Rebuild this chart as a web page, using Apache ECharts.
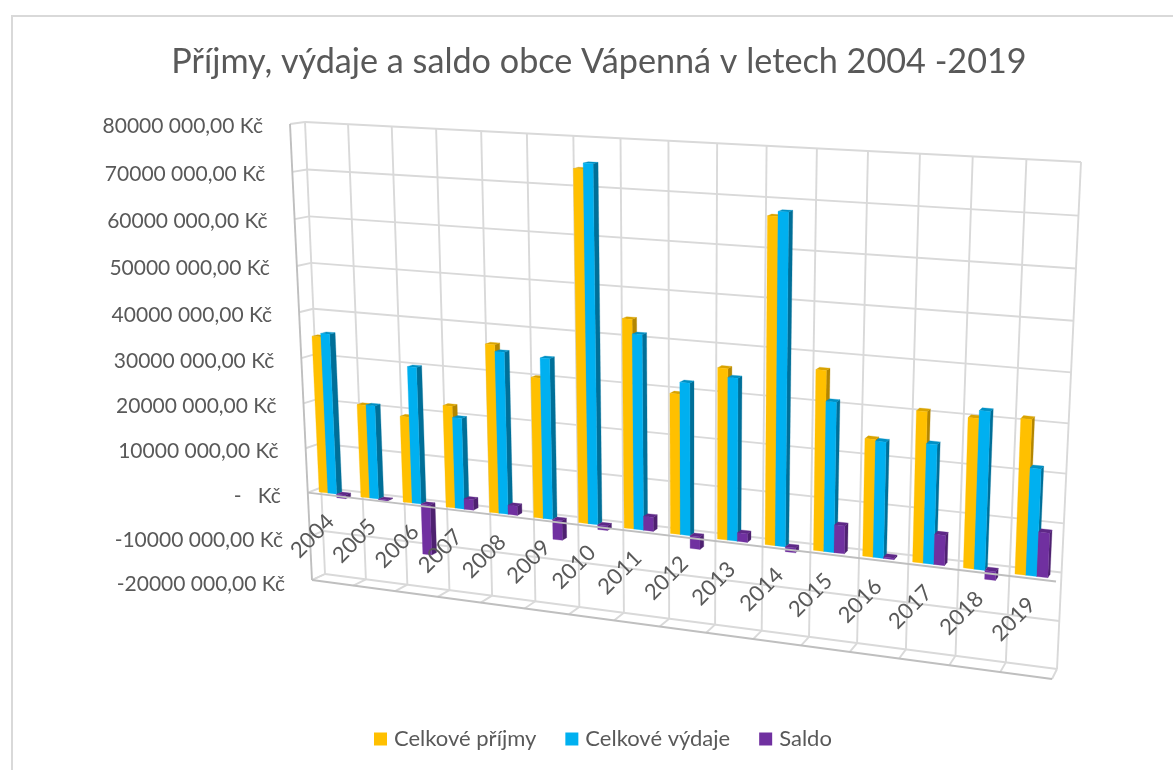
<!DOCTYPE html>
<html><head><meta charset="utf-8">
<style>html,body{margin:0;padding:0;background:#fff}#c{width:1173px;height:770px}</style>
<script src="https://cdn.jsdelivr.net/npm/echarts@6/dist/echarts.min.js"></script>
</head><body><div id="c"></div>
<script>
const categories=['2004','2005','2006','2007','2008','2009','2010','2011','2012','2013','2014','2015','2016','2017','2018','2019'];
const prijmy=[34.7e6,20.6e6,19e6,22.3e6,36.4e6,30.2e6,74e6,44.2e6,29.6e6,35.8e6,67e6,37.2e6,24.2e6,30.8e6,30.4e6,31.2e6];
const vydaje=[35.5e6,20.7e6,30e6,19.9e6,35e6,34.5e6,75.2e6,41.2e6,32.1e6,34e6,68e6,31e6,23.9e6,24.4e6,32e6,21.6e6];
const saldo=[-0.8e6,-0.2e6,-11.2e6,2.3e6,2e6,-4.3e6,-1e6,3e6,-2.7e6,1.8e6,-1e6,5.8e6,0.3e6,6.2e6,-1.8e6,9e6];
const yTicks=[-20e6,-10e6,0,10e6,20e6,30e6,40e6,50e6,60e6,70e6,80e6];
const yTickLabels=['-20000 000,00 Kč','-10000 000,00 Kč','-   Kč','10000 000,00 Kč','20000 000,00 Kč','30000 000,00 Kč','40000 000,00 Kč','50000 000,00 Kč','60000 000,00 Kč','70000 000,00 Kč','80000 000,00 Kč'];
const seriesNames=['Celkové příjmy','Celkové výdaje','Saldo'];
const seriesColors=[['#FFC000','#B38600','#D9A300'],['#00B0F0','#006F98','#0090C4'],['#7030A0','#4E2170','#5E2887']];
const titleText='Příjmy, výdaje a saldo obce Vápenná v letech 2004 -2019';
const FONT='Lato';

// perspective of the 3D box: back wall and front plane quads
const backQuad=[[305,122],[1081,162],[1057,669],[325,574]];
const frontQuad=[[290,124],[1073,167],[1052,679],[312,580]];
function homography(q){
  const [p0,p1,p2,p3]=q;
  const dx1=p1[0]-p2[0],dx2=p3[0]-p2[0],sx=p0[0]-p1[0]+p2[0]-p3[0];
  const dy1=p1[1]-p2[1],dy2=p3[1]-p2[1],sy=p0[1]-p1[1]+p2[1]-p3[1];
  const den=dx1*dy2-dx2*dy1;
  const g=(sx*dy2-dx2*sy)/den,h=(dx1*sy-sx*dy1)/den;
  const a=p1[0]-p0[0]+g*p1[0],b=p3[0]-p0[0]+h*p3[0],c=p0[0];
  const d=p1[1]-p0[1]+g*p1[1],e=p3[1]-p0[1]+h*p3[1],f=p0[1];
  return (u,v)=>{const w=1+g*u+h*v;return [(a*u+b*v+c)/w,(d*u+e*v+f)/w];};
}
const hBack=homography(backQuad),hFront=homography(frontQuad);
function proj(u,v,w){const A=hBack(u,v),B=hFront(u,v);return [A[0]+(B[0]-A[0])*w,A[1]+(B[1]-A[1])*w];}

// library scale -> unit box coordinates
function uvOf(params,api,cat,val){
  const p=api.coord([cat,val]),cs=params.coordSys;
  return [(p[0]-cs.x)/cs.width,(p[1]-cs.y)/cs.height];
}
const gridColor='#D9D9D9',edgeColor='#BFBFBF';
function seg(a,b,color,w){return {type:'line',shape:{x1:a[0],y1:a[1],x2:b[0],y2:b[1]},style:{stroke:color,lineWidth:w,fill:null}};}

const W_FRONT=0.72,W_BACK=0.32,GAP=0.185,BAR=0.21;
function barSeries(idx,values){
  return {name:seriesNames[idx],type:'custom',coordinateSystem:'cartesian2d',z:5,silent:true,clip:false,
    itemStyle:{color:seriesColors[idx][0]},
    data:values.map((v,i)=>[i,v]),encode:{x:0,y:1},
    renderItem(params,api){
      const cat=api.value(0),val=api.value(1);
      const cs=params.coordSys,band=api.size([1,0])[0]/cs.width;
      const top=uvOf(params,api,cat,Math.max(val,0)),bot=uvOf(params,api,cat,Math.min(val,0));
      const u0=top[0]-band/2+band*(GAP+BAR*idx),u1=u0+band*BAR;
      const vt=top[1],vb=bot[1];
      const c=seriesColors[idx];
      const poly=(pts,fill)=>({type:'polygon',shape:{points:pts},style:{fill,stroke:fill,lineWidth:0.3}});
      const f=[proj(u0,vt,W_FRONT),proj(u1,vt,W_FRONT),proj(u1,vb,W_FRONT),proj(u0,vb,W_FRONT)];
      const sd=[proj(u1,vt,W_FRONT),proj(u1,vt,W_BACK),proj(u1,vb,W_BACK),proj(u1,vb,W_FRONT)];
      const tp=[proj(u0,vt,W_FRONT),proj(u0,vt,W_BACK),proj(u1,vt,W_BACK),proj(u1,vt,W_FRONT)];
      return {type:'group',children:[poly(sd,c[1]),poly(tp,c[2]),poly(f,c[0])]};
    }};
}
const option={
  animation:false,backgroundColor:'#fff',
  title:{text:titleText,left:594,top:40,textAlign:'center',textStyle:{fontFamily:FONT,fontSize:34.2,fontWeight:'normal',color:'#595959'}},
  legend:{data:seriesNames,left:369,top:723,icon:'rect',itemWidth:13,itemHeight:13,itemGap:29,textStyle:{fontFamily:FONT,fontSize:22,color:'#595959',padding:[0,0,0,2]},selectedMode:false},
  grid:{left:100,right:100,top:100,bottom:100},
  xAxis:{type:'category',data:categories,show:false},
  yAxis:{type:'value',min:-20e6,max:80e6,interval:10e6,show:false},
  graphic:[{type:'polyline',shape:{points:[[12,770],[12,16],[1173,16]]},style:{stroke:'#D9D9D9',lineWidth:2,fill:null},silent:true}],
  series:[
    {type:'custom',name:'_h',z:1,silent:true,clip:false,data:yTicks.map((v,i)=>[0,v,i]),encode:{x:0,y:1},
     renderItem(params,api){
       const val=api.value(1),i=api.value(2);
       const v=uvOf(params,api,0,val)[1];
       const kids=[seg(proj(0,v,0),proj(1,v,0),gridColor,1.9),seg(proj(0,v,1),proj(0,v,0),gridColor,1.9)];
       const a=proj(0,v,1);
       kids.push({type:'text',style:{text:yTickLabels[i],x:a[0]-27,y:a[1]+2+v*2,align:'right',verticalAlign:'middle',fill:'#595959',font:'21px '+FONT}});
       return {type:'group',children:kids};
     }},
    {type:'custom',name:'_v',z:1,silent:true,clip:false,data:categories.concat(['']).map((c,i)=>[Math.min(i,15),i]),encode:{x:0},
     renderItem(params,api){
       const cat=api.value(0),k=api.value(1);
       const band=api.size([1,0])[0]/params.coordSys.width;
       const u=uvOf(params,api,cat,0)[0]-band/2+(k>cat?band:0);
       const vb=uvOf(params,api,cat,yTicks[0])[1],vt=uvOf(params,api,cat,yTicks[10])[1];
       return {type:'group',children:[seg(proj(u,vt,0),proj(u,vb,0),gridColor,1.9),seg(proj(u,vb,0),proj(u,vb,1),gridColor,1.9)]};
     }},
    {type:'custom',name:'_edges',z:2,silent:true,clip:false,data:[[0,yTicks[0]]],encode:{x:0,y:1},
     renderItem(params,api){
       const vb=uvOf(params,api,0,yTicks[0])[1],vt=uvOf(params,api,0,yTicks[10])[1];
       return {type:'group',children:[seg(proj(0,vt,1),proj(0,vb,1),edgeColor,1.9),seg(proj(0,vb,1),proj(1,vb,1),edgeColor,1.9)]};
     }},
    barSeries(0,prijmy),barSeries(1,vydaje),barSeries(2,saldo),
    {type:'custom',name:'_zero',z:8,silent:true,clip:false,data:[[0,0]],encode:{x:0,y:1},
     renderItem(params,api){
       const v=uvOf(params,api,0,0)[1];
       return {type:'group',children:[seg(proj(0,v,1),proj(1,v,1),edgeColor,1.9)]};
     }},
    {type:'custom',name:'_cat',z:9,silent:true,clip:false,data:categories.map((c,i)=>[i,0]),encode:{x:0,y:1},
     renderItem(params,api){
       const i=api.value(0),q=uvOf(params,api,i,0),a=proj(q[0],q[1],1);
       return {type:'text',x:a[0]-16,y:a[1]+41,rotation:Math.PI/4,style:{text:categories[i],x:0,y:0,align:'center',verticalAlign:'middle',fill:'#595959',font:'22px '+FONT}};
     }}
  ]
};
echarts.init(document.getElementById('c')).setOption(option);
</script></body></html>
